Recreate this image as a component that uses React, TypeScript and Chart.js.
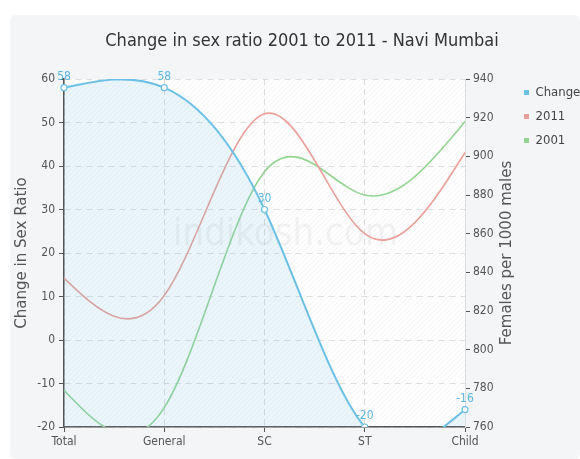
import React, { useEffect, useRef } from 'react';
import { Chart, registerables } from 'chart.js';
Chart.register(...registerables);

const categories = ['Total', 'General', 'SC', 'ST', 'Child'];
const changeValues = [58, 58, 30, -20, -16];
const ratio2011 = [837, 828, 922, 860, 902];
const ratio2001 = [779, 770, 892, 880, 918];
const leftRange = { min: -20, max: 60, step: 10 };
const rightRange = { min: 760, max: 940, step: 20 };
const titleText = 'Change in sex ratio 2001 to 2011 - Navi Mumbai';
const leftTitle = 'Change in Sex Ratio';
const rightTitle = 'Females per 1000 males';
const watermark = 'indikosh.com';

const COND = "'DejaVu Sans Condensed', 'DejaVu Sans', sans-serif";
const WIDE = "'DejaVu Sans', Verdana, sans-serif";
const BLUE = '#6cc0e6';
const RED = '#eb9f99';
const GREEN = '#93d493';
const TXT = '#555555';

// Natural cubic spline control points (computed from the scale's pixel positions)
function naturalSplineCPs(points: any[]) {
  const n = points.length - 1;
  if (n < 1) return;
  const x = points.map((p) => p.x);
  const y = points.map((p) => p.y);
  const h: number[] = [];
  for (let i = 0; i < n; i++) h.push(x[i + 1] - x[i]);
  const M = new Array(n + 1).fill(0);
  if (n >= 2) {
    const a: number[] = [], b: number[] = [], c: number[] = [], d: number[] = [];
    for (let i = 1; i < n; i++) {
      a.push(h[i - 1]);
      b.push(2 * (h[i - 1] + h[i]));
      c.push(h[i]);
      d.push(6 * ((y[i + 1] - y[i]) / h[i] - (y[i] - y[i - 1]) / h[i - 1]));
    }
    const m = b.length;
    for (let i = 1; i < m; i++) {
      const w = a[i] / b[i - 1];
      b[i] -= w * c[i - 1];
      d[i] -= w * d[i - 1];
    }
    const sol = new Array(m).fill(0);
    sol[m - 1] = d[m - 1] / b[m - 1];
    for (let i = m - 2; i >= 0; i--) sol[i] = (d[i] - c[i] * sol[i + 1]) / b[i];
    for (let i = 1; i < n; i++) M[i] = sol[i - 1];
  }
  for (let i = 0; i < n; i++) {
    const hi = h[i];
    const sl = (y[i + 1] - y[i]) / hi;
    const s0 = sl - (hi * (2 * M[i] + M[i + 1])) / 6;
    const s1 = sl + (hi * (M[i] + 2 * M[i + 1])) / 6;
    points[i].cp2x = x[i] + hi / 3;
    points[i].cp2y = y[i] + (s0 * hi) / 3;
    points[i + 1].cp1x = x[i + 1] - hi / 3;
    points[i + 1].cp1y = y[i + 1] - (s1 * hi) / 3;
  }
  points[0].cp1x = x[0];
  points[0].cp1y = y[0];
  points[n].cp2x = x[n];
  points[n].cp2y = y[n];
}

const splinePlugin = {
  id: 'naturalSpline',
  afterDatasetsUpdate(chart: any) {
    chart.data.datasets.forEach((_: any, i: number) => {
      const meta = chart.getDatasetMeta(i);
      if (!meta || !meta.dataset) return;
      naturalSplineCPs(meta.data);
      meta.dataset._pointsUpdated = true;
      meta.dataset._path = undefined;
    });
  },
};

const bgPlugin = {
  id: 'bg',
  beforeDraw(chart: any) {
    const { ctx, chartArea: a, width, height } = chart;
    ctx.save();
    ctx.fillStyle = '#ffffff';
    ctx.fillRect(0, 0, width, height);
    ctx.fillStyle = '#f4f5f7';
    ctx.beginPath();
    if ((ctx as any).roundRect) (ctx as any).roundRect(10, 15, width - 10, height - 15, 6);
    else ctx.rect(10, 15, width - 10, height - 15);
    ctx.fill();
    ctx.fillStyle = '#ffffff';
    ctx.fillRect(a.left, a.top, a.right - a.left, a.bottom - a.top);
    const pc = document.createElement('canvas');
    pc.width = 5; pc.height = 5;
    const p = pc.getContext('2d')!;
    p.strokeStyle = 'rgba(0,0,0,0.045)';
    p.lineWidth = 1;
    p.beginPath();
    p.moveTo(0, 5); p.lineTo(5, 0);
    p.stroke();
    const pat = ctx.createPattern(pc, 'repeat');
    if (pat) {
      ctx.fillStyle = pat;
      ctx.fillRect(a.left, a.top, a.right - a.left, a.bottom - a.top);
    }
    ctx.restore();
  },
  beforeDatasetsDraw(chart: any) {
    const { ctx, chartArea: a } = chart;
    ctx.save();
    ctx.font = `38px ${COND}`;
    ctx.fillStyle = 'rgba(195,195,195,0.2)';
    ctx.textAlign = 'center';
    ctx.textBaseline = 'middle';
    ctx.fillText(watermark, (a.left + a.right) / 2 + 21, (a.top + a.bottom) / 2 - 18);
    ctx.restore();
  },
};

const labelPlugin = {
  id: 'pointLabels',
  afterDatasetsDraw(chart: any) {
    const { ctx } = chart;
    const meta = chart.getDatasetMeta(0);
    ctx.save();
    ctx.font = `12px ${COND}`;
    ctx.fillStyle = '#5db6df';
    ctx.textAlign = 'center';
    ctx.textBaseline = 'bottom';
    meta.data.forEach((pt: any, i: number) => {
      ctx.fillText(String(changeValues[i]), pt.x, pt.y - 5);
    });
    ctx.restore();
  },
  afterDraw(chart: any) {
    const { ctx, chartArea: a } = chart;
    ctx.save();
    ctx.translate(507, (a.top + a.bottom) / 2);
    ctx.rotate(-Math.PI / 2);
    ctx.font = `15px ${WIDE}`;
    ctx.fillStyle = TXT;
    ctx.textAlign = 'center';
    ctx.textBaseline = 'middle';
    ctx.fillText(rightTitle, 0, 0);
    ctx.restore();
  },
};

const layoutPlugin = {
  id: 'fixLayout',
  beforeLayout(chart: any) {
    const lg = chart.legend;
    if (lg && !lg._patched) {
      const f = lg.fit;
      lg.fit = function () {
        f.call(this);
        this.width = 62;
      };
      lg._patched = true;
    }
  },
  afterLayout(chart: any) {
    const lg = chart.legend;
    if (lg) {
      lg.top -= 4;
      lg.left -= 5;
    }
    const tb = chart.titleBlock;
    if (tb) {
      tb.left += 12;
      tb.right += 12;
    }
  },
};

export default function App() {
  const ref = useRef<HTMLCanvasElement | null>(null);
  useEffect(() => {
    if (!ref.current) return;
    const chart = new Chart(ref.current, {
      type: 'line',
      data: {
        labels: categories,
        datasets: [
          {
            label: 'Change',
            data: changeValues,
            yAxisID: 'y',
            borderColor: BLUE,
            backgroundColor: 'rgba(108,192,230,0.14)',
            fill: 'start',
            borderWidth: 2,
            tension: 0.4,
            pointRadius: 3,
            pointBackgroundColor: '#ffffff',
            pointBorderColor: BLUE,
            pointBorderWidth: 1.2,
          },
          {
            label: '2011',
            data: ratio2011,
            yAxisID: 'y1',
            borderColor: RED,
            backgroundColor: RED,
            fill: false,
            borderWidth: 1.6,
            tension: 0.4,
            pointRadius: 0,
          },
          {
            label: '2001',
            data: ratio2001,
            yAxisID: 'y1',
            borderColor: GREEN,
            backgroundColor: GREEN,
            fill: false,
            borderWidth: 1.6,
            tension: 0.4,
            pointRadius: 0,
          },
        ],
      },
      options: {
        animation: false,
        responsive: true,
        maintainAspectRatio: false,
        elements: { line: { capBezierPoints: false } },
        layout: { padding: 0 },
        plugins: {
          title: {
            display: true,
            text: titleText,
            color: '#333333',
            font: { family: COND, size: 18, weight: 'normal' },
            padding: { top: 31, bottom: 26.4 },
          },
          legend: {
            position: 'right',
            align: 'start',
            fullSize: false,
            labels: {
              usePointStyle: true,
              pointStyle: 'rect',
              boxWidth: 5,
              boxHeight: 5,
              padding: 11,
              color: '#444444',
              font: { family: COND, size: 13 },
              generateLabels(chart: any) {
                const items = Chart.defaults.plugins.legend.labels.generateLabels(chart);
                return items.map((it: any) => {
                  const ds = chart.data.datasets[it.datasetIndex];
                  return { ...it, fillStyle: ds.borderColor, strokeStyle: ds.borderColor, lineWidth: 0 };
                });
              },
            },
          },
          tooltip: { enabled: false },
        },
        scales: {
          x: {
            type: 'category',
            offset: false,
            grid: {
              display: true,
              color: '#dcdcdc',
              tickColor: '#555555',
              tickLength: 5,
              drawOnChartArea: true,
            },
            border: { color: '#555555', width: 1.5, dash: [6, 4] },
            ticks: { color: TXT, font: { family: COND, size: 12 }, padding: 3, maxRotation: 0 },
            afterFit(scale: any) {
              scale.height = 32;
            },
          },
          y: {
            position: 'left',
            min: leftRange.min,
            max: leftRange.max,
            ticks: { stepSize: leftRange.step, color: TXT, font: { family: COND, size: 12 }, padding: 4 },
            grid: { color: '#dedede', tickColor: '#555555', tickLength: 5 },
            border: { color: '#555555', width: 1.5, dash: [6, 5] },
            title: {
              display: true,
              text: leftTitle,
              color: TXT,
              font: { family: WIDE, size: 15 },
              padding: { top: 13, bottom: 0 },
            },
            afterFit(scale: any) {
              scale.width = 64;
            },
          },
          y1: {
            position: 'right',
            min: rightRange.min,
            max: rightRange.max,
            ticks: { stepSize: rightRange.step, color: TXT, font: { family: COND, size: 12 }, padding: 3 },
            grid: { drawOnChartArea: false, tickColor: '#555555', tickLength: 5 },
            border: { color: '#dddddd', width: 1 },
            afterFit(scale: any) {
              scale.width = 53;
            },
          },
        },
      },
      plugins: [bgPlugin, splinePlugin, labelPlugin, layoutPlugin],
    } as any);
    return () => chart.destroy();
  }, []);
  return (
    <div style={{ position: 'absolute', left: 0, top: 0, width: 580, height: 459 }}>
      <canvas ref={ref} />
    </div>
  );
}
